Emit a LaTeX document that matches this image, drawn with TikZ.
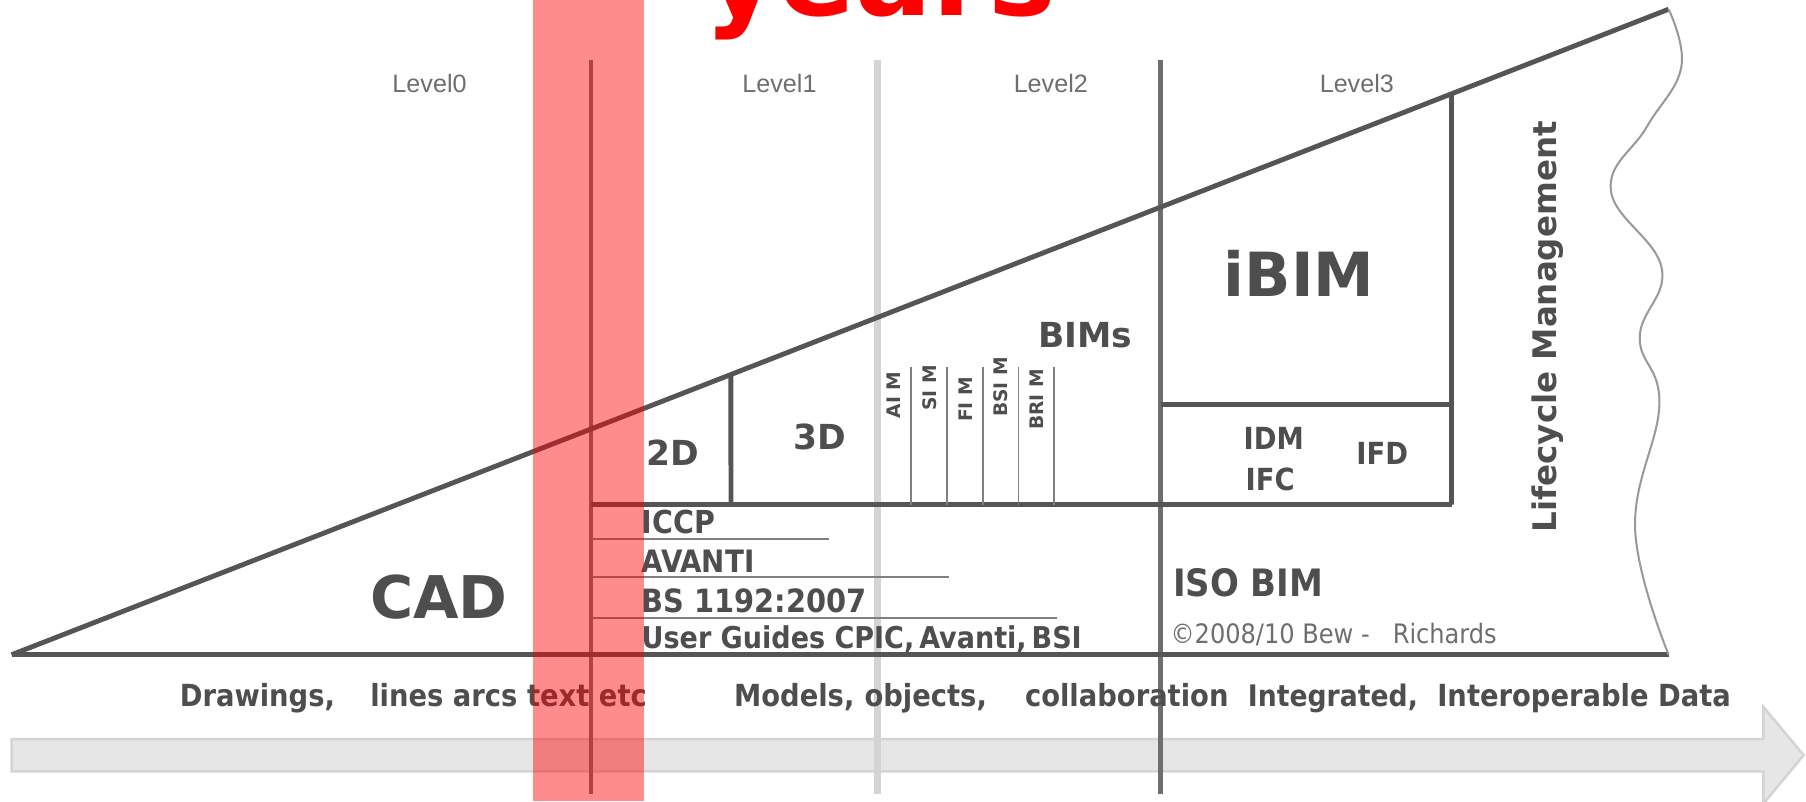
\documentclass[tikz,border=0pt]{standalone}
\usepackage{fontspec}
\setmainfont{DejaVu Sans}
\newfontfamily\arial{Liberation Sans}
\newfontfamily\narrow{DejaVu Sans Condensed}
\usetikzlibrary{calc}
\definecolor{ink}{HTML}{555555}
\definecolor{txt}{HTML}{4E4E4E}
\definecolor{lite}{HTML}{D4D4D4}
\definecolor{band}{HTML}{E6E6E6}

\begin{document}
\begin{tikzpicture}[x=0.1mm,y=-0.1mm,
    rule/.style={draw=ink,line width=1.2pt},
    hair/.style={draw=ink!75,line width=0.45pt},
    heavy/.style={text=txt,inner sep=0pt,font=\bfseries\fontsize{#1}{#1}\selectfont},
    cond/.style={text=txt,inner sep=0pt,font=\narrow\bfseries\fontsize{#1}{#1}\selectfont},
    lvl/.style={text=ink!85,inner sep=0pt,font=\arial\fontsize{6.2}{6.2}\selectfont}]
\useasboundingbox (0,0) rectangle (1564,694);
\clip (0,0) rectangle (1564,694);

\fill[band,draw=lite,line width=0.6pt] (10,640) -- (1527,640) -- (1527,612) -- (1562,654)
   -- (1527,696) -- (1527,668) -- (10,668) -- cycle;

\coordinate (o) at (10,567);
\coordinate (top) at (1445,8);
\coordinate (br) at (1445,567);
\coordinate (h2) at ($(o)!0.4341!(top)$);
\coordinate (h3) at ($(o)!0.8690!(top)$);

\draw[draw=ink!80,line width=0.9pt] (512,52) -- (512,688);
\draw[draw=lite,line width=1.7pt] (760,52) -- (760,688);
\draw[draw=ink!85,line width=1.1pt] (1005,52) -- (1005,688);

\draw[rule] (o) -- (top);
\draw[rule] (o) -- (br);
\draw[draw=ink!60,line width=0.5pt] (top) plot[smooth,tension=0.7] coordinates {(1445,8) (1456,58) (1426,110)
   (1395,165) (1439,232) (1420,292) (1437,350) (1416,458) (1445,567)};

\draw[rule] (512,437) -- (1257,437);
\draw[rule] (h2) -- (633,437);
\draw[rule] (h3) -- (1257,437);
\draw[rule] (1005,350) -- (1257,350);
\foreach \x in {789,820,851,882,913}
  \draw[hair] (\x,318) -- (\x,437);
\draw[hair] (512,467) -- (718,467);
\draw[hair] (512,500) -- (822,500);
\draw[hair] (512,535) -- (915,535);

\node[lvl] (l0) at (372,72) {Level0};
\node[lvl] (l1) at (675,72) {Level1};
\node[lvl] (l2) at (910,72) {Level2};
\node[lvl] (l3) at (1175,72) {Level3};

\node[heavy=14.5] (cad) at (380,517) {CAD};
\node[heavy=8.5] (d2) at (583,392) {2D};
\node[heavy=8.5] (d3) at (710,378) {3D};
\node[heavy=8.5] (bims) at (940,290) {BIMs};
\node[heavy=15] (ibim) at (1125,237) {iBIM};
\node[heavy=8,rotate=90] (life) at (1340,283) {Lifecycle Management};
\foreach \x/\y/\t in {774/342/AI M,805/336/SI M,836/346/FI M,867/335/BSI M,898/346/BRI M}
  \node[heavy=4.6,rotate=90] (m\x) at (\x,\y) {\t};

\node[cond=7.5] (idm) at (1103,380) {IDM};
\node[cond=7.5] (ifc) at (1100,415) {IFC};
\node[cond=7.5] (ifd) at (1197,393) {IFD};
\node[cond=9.3] (iso) at (1081,505) {ISO BIM};
\node[anchor=base west,inner sep=0pt,text=ink!85,font=\narrow\fontsize{6.6}{6.6}\selectfont] (copy)
   at (1013,557) {©2008/10 Bew -\ \ \ Richards};

\node[cond=7.8,anchor=base west] (iccp) at (555,462) {ICCP};
\node[cond=7.6,anchor=base west] (avanti) at (555,496) {AVANTI};
\node[cond=7.9,anchor=base west] (bs) at (555,530) {BS 1192:2007};
\node[cond=7.4,anchor=base west] (guide) at (555,562) {User Guides CPIC,\,Avanti,\,BSI};

\node[cond=7.5,anchor=base west] (t1) at (155,612) {Drawings,};
\node[cond=7.5,anchor=base west] (t2) at (320,612) {lines arcs text etc};
\node[cond=7.5,anchor=base west] (t3) at (635,612) {Models,};
\node[cond=7.5,anchor=base west] (t4) at (748,612) {objects,};
\node[cond=7.5,anchor=base west] (t5) at (887,612) {collaboration};
\node[cond=7.3,anchor=base west] (t6) at (1080,612) {Integrated,};
\node[cond=7.5,anchor=base west] (t7) at (1244,612) {Interoperable Data};

\fill[red,opacity=0.45] (462,0) rectangle (558,694);
\node[anchor=base,inner sep=0pt,text=red,font=\bfseries\fontsize{28}{28}\selectfont] (yrs) at (762,13) {years};
\end{tikzpicture}
\end{document}
